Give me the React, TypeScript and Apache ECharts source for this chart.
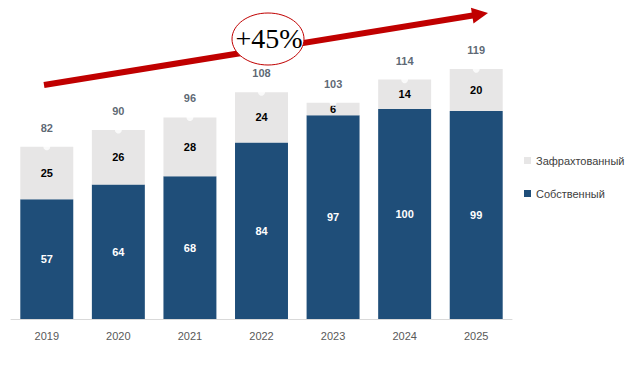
import React, { useEffect, useRef } from "react";
import * as echarts from "echarts";

const years = ["2019", "2020", "2021", "2022", "2023", "2024", "2025"];
const own = [57, 64, 68, 84, 97, 100, 99];
const chartered = [25, 26, 28, 24, 6, 14, 20];
const totals = [82, 90, 96, 108, 103, 114, 119];
const growthLabel = "+45%";
const ownName = "Собственный";
const charteredName = "Зафрахтованный";

export default function App() {
  const ref = useRef<HTMLDivElement>(null);
  useEffect(() => {
    if (!ref.current) return;
    const chart = echarts.init(ref.current, null, { renderer: "svg" });
    const font = "Liberation Sans";
    // arrow geometry
    const sx = 44, sy = 85, tx = 488, ty = 13;
    const len = Math.hypot(tx - sx, ty - sy);
    const ux = (tx - sx) / len, uy = (ty - sy) / len;
    const nx = -uy, ny = ux;
    const hl = 16, hw = 8;
    const bx = tx - hl * ux, by = ty - hl * uy;
    chart.setOption({
      animation: false,
      textStyle: { fontFamily: font },
      grid: { left: 11, right: 124, top: 46, bottom: 53, containLabel: false },
      legend: {
        orient: "vertical",
        left: 519,
        top: 150,
        itemWidth: 7,
        itemHeight: 7,
        itemGap: 22,
        icon: "rect",
        data: [charteredName, ownName],
        textStyle: { color: "#404040", fontSize: 11, fontFamily: font },
      },
      xAxis: {
        type: "category",
        data: years,
        axisLine: { lineStyle: { color: "#d9d9d9" } },
        axisTick: { show: false },
        axisLabel: { color: "#595959", fontSize: 11, margin: 11 },
      },
      yAxis: { type: "value", min: 0, max: 130, show: false, splitLine: { show: false } },
      series: [
        {
          name: ownName,
          type: "bar",
          stack: "t",
          data: own,
          barCategoryGap: "26%",
          itemStyle: { color: "#1F4E79" },
          label: { show: true, position: "inside", color: "#ffffff", fontWeight: "bold", fontSize: 11 },
        },
        {
          name: charteredName,
          type: "bar",
          stack: "t",
          data: chartered,
          itemStyle: { color: "#E7E6E6" },
          label: { show: true, position: "inside", color: "#000000", fontWeight: "bold", fontSize: 11 },
        },
        {
          name: "total",
          type: "scatter",
          data: totals,
          symbol: "circle",
          symbolSize: 7,
          itemStyle: { color: "#ffffff" },
          label: { show: true, position: "top", distance: 10, color: "#333F50", fontSize: 11, fontWeight: "bold" },
          z: 5,
        },
      ],
      graphic: [
        {
          type: "line",
          shape: { x1: sx, y1: sy, x2: bx + 2 * ux, y2: by + 2 * uy },
          style: { stroke: "#C00000", lineWidth: 6 },
          z: 10,
        },
        {
          type: "polygon",
          shape: {
            points: [
              [tx, ty],
              [bx + hw * nx, by + hw * ny],
              [bx - hw * nx, by - hw * ny],
            ],
          },
          style: { fill: "#C00000" },
          z: 10,
        },
        {
          type: "ellipse",
          shape: { cx: 268, cy: 39, rx: 36, ry: 26 },
          style: { fill: "#ffffff", stroke: "#C00000", lineWidth: 1 },
          z: 11,
        },
        {
          type: "text",
          x: 269,
          y: 38,
          style: {
            text: growthLabel,
            fill: "#000000",
            font: "28px 'Liberation Serif'",
            align: "center",
            verticalAlign: "middle",
          },
          z: 12,
        },
      ],
    });
    return () => chart.dispose();
  }, []);
  return <div ref={ref} style={{ width: 636, height: 372, position: "absolute", left: 0, top: 0 }} />;
}
